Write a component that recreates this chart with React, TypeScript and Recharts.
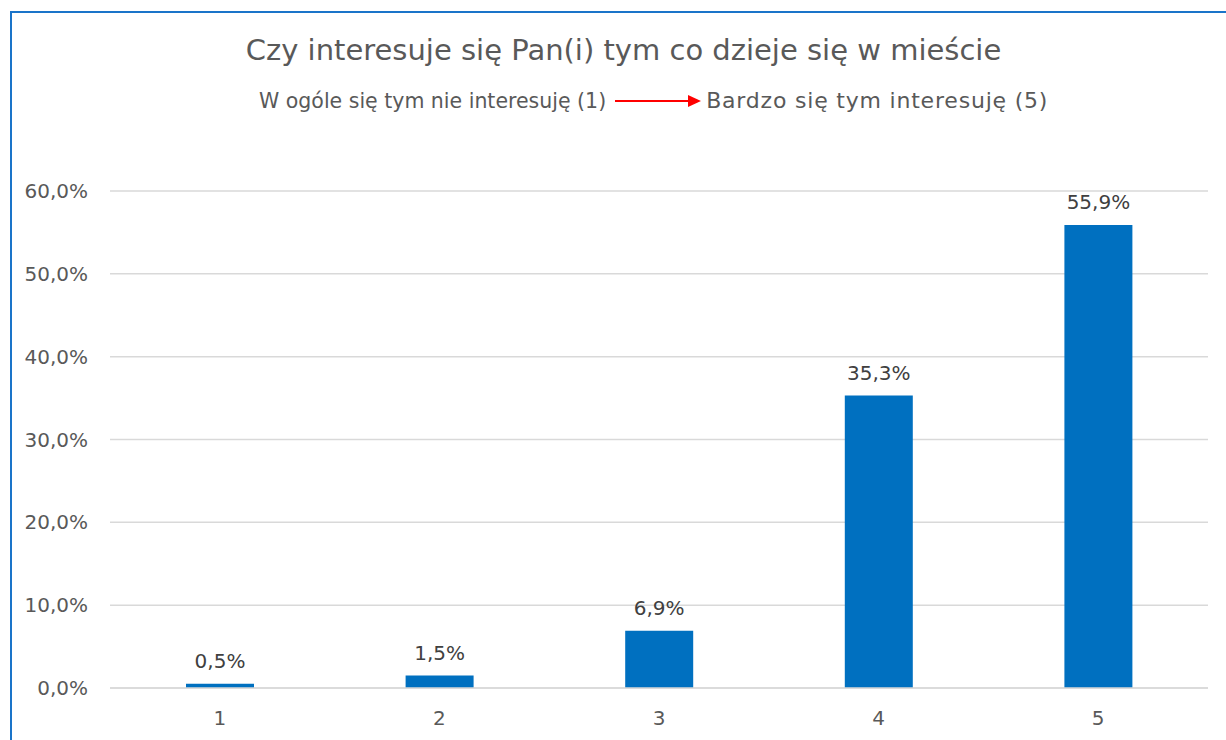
import React from "react";
import { BarChart, Bar, XAxis, YAxis, CartesianGrid, LabelList } from "recharts";

const categories = ["1", "2", "3", "4", "5"];
const shares = [0.5, 1.5, 6.9, 35.3, 55.9];
const yTicks = [0, 10, 20, 30, 40, 50, 60];

const data = categories.map((c, i) => ({ name: c, value: shares[i] }));

const fmt = (v: number) => v.toFixed(1).replace(".", ",") + "%";
const FONT = "'DejaVu Sans', sans-serif";

export default function App() {
  return (
    <div
      style={{
        position: "fixed",
        left: 0,
        top: 0,
        width: 1226,
        height: 740,
        overflow: "hidden",
        background: "#fff",
        fontFamily: FONT,
      }}
    >
      <div
        style={{
          position: "absolute",
          left: 10,
          top: 11,
          width: 1400,
          height: 900,
          borderLeft: "2px solid #1a74c9",
          borderTop: "2px solid #1a74c9",
        }}
      />
      <div
        style={{
          position: "absolute",
          left: 0,
          top: 31,
          width: 1247,
          textAlign: "center",
          fontSize: 29,
          color: "#595959",
          lineHeight: "38px",
          whiteSpace: "nowrap",
        }}
      >
        Czy interesuje się Pan(i) tym co dzieje się w mieście
      </div>
      <div
        style={{
          position: "absolute",
          left: 259,
          top: 88,
          display: "flex",
          alignItems: "center",
          color: "#595959",
          lineHeight: "26px",
          whiteSpace: "nowrap",
        }}
      >
        <span style={{ fontSize: 20.5 }}>W ogóle się tym nie interesuję (1)</span>
        <svg width={96} height={20} style={{ marginLeft: 4 }}>
          <line x1={5} y1={10} x2={80} y2={10} stroke="#ff0000" strokeWidth={2} />
          <polygon points="78,4 91,10 78,16" fill="#ff0000" />
        </svg>
        <span style={{ fontSize: 22, letterSpacing: 0.8 }}>Bardzo się tym interesuję (5)</span>
      </div>
      <div style={{ position: "absolute", left: 0, top: 0 }}>
        <BarChart
          width={1226}
          height={740}
          data={data}
          margin={{ top: 191, right: 18, bottom: 12, left: 0 }}
          barCategoryGap="0%"
        >
          <CartesianGrid vertical={false} stroke="#d9d9d9" strokeWidth={1.5} />
          <XAxis
            dataKey="name"
            height={40}
            axisLine={{ stroke: "#d9d9d9", strokeWidth: 1.5 }}
            tickLine={false}
            tickMargin={17}
            tick={{ fill: "#595959", fontSize: 20, fontFamily: FONT }}
          />
          <YAxis
            width={110}
            domain={[0, 60]}
            ticks={yTicks}
            tickFormatter={fmt}
            axisLine={false}
            tickLine={false}
            tickMargin={16}
            tick={{ fill: "#595959", fontSize: 20, fontFamily: FONT }}
          />
          <Bar dataKey="value" fill="#0070c0" barSize={68} isAnimationActive={false}>
            <LabelList
              dataKey="value"
              position="top"
              offset={16}
              formatter={(v: any) => fmt(Number(v))}
              style={{ fill: "#404040", fontSize: 20, fontFamily: FONT }}
            />
          </Bar>
        </BarChart>
      </div>
    </div>
  );
}
